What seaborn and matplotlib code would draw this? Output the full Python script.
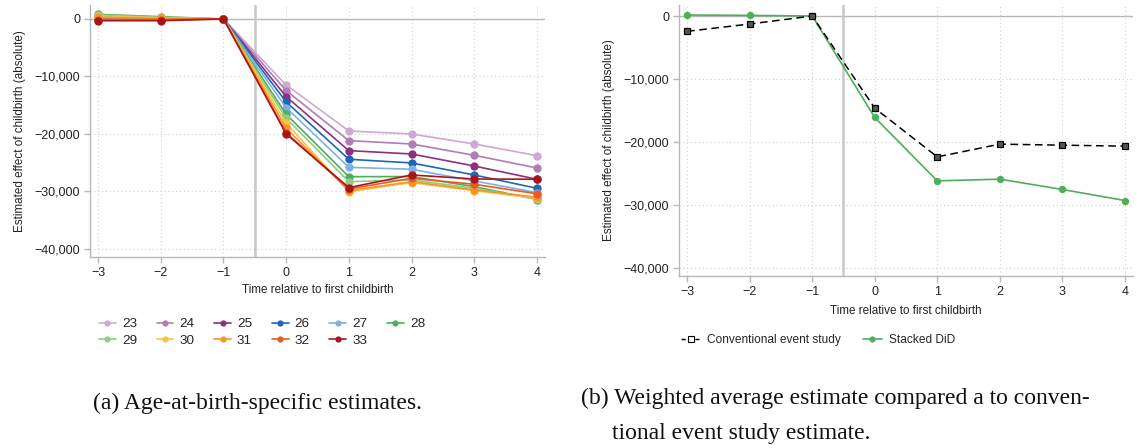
import numpy as np
import pandas as pd
import matplotlib
matplotlib.use("Agg")
import matplotlib.pyplot as plt
import seaborn as sns
from matplotlib.ticker import FuncFormatter
from matplotlib.lines import Line2D

# ---------------- data ----------------
periods = [-3, -2, -1, 0, 1, 2, 3, 4]
ages = [23, 24, 25, 26, 27, 28, 29, 30, 31, 32, 33]
est_23 = [300, 200, 0, -11480, -19480, -20000, -21740, -23770]
est_24 = [200, 100, 0, -12470, -21160, -21740, -23710, -25910]
est_25 = [100, 0, 0, -13510, -22900, -23480, -25570, -27880]
est_26 = [0, -100, 0, -14430, -24400, -25040, -27130, -29450]
est_27 = [200, 100, 0, -15420, -25800, -26140, -28170, -30200]
est_28 = [800, 400, 0, -16580, -27420, -27420, -29160, -31400]
est_29 = [700, 300, 0, -17270, -28290, -28000, -29450, -31300]
est_30 = [500, 200, 0, -18140, -30030, -28460, -29850, -31200]
est_31 = [300, 100, 0, -19010, -29860, -28290, -29740, -31000]
est_32 = [-100, -100, 0, -19770, -29570, -27710, -28750, -30400]
est_33 = [-300, -300, 0, -20000, -29330, -27130, -27830, -27880]
age_colors = ["#cfa9d4", "#b27db2", "#8e2f80", "#1f67b3", "#7fb1e3", "#4fae5b",
              "#8dcd84", "#fcc43e", "#f6952d", "#ea5b22", "#a8161b"]

conventional = [-2430, -1270, 0, -14630, -22370, -20350, -20510, -20670]
stacked_did = [160, 100, 0, -16110, -26180, -25910, -27550, -29300]
series_names = ["Conventional event study", "Stacked DiD"]

ylabel = "Estimated effect of childbirth (absolute)"
xlabel = "Time relative to first childbirth"
cap_a = "(a) Age-at-birth-specific estimates."
cap_b1 = "(b) Weighted average estimate compared a to conven-"
cap_b2 = "tional event study estimate."

# ---------------- style ----------------
sns.set_theme(style="white")
plt.rcParams["font.family"] = ["Liberation Sans", "DejaVu Sans"]
GRID = "#d0d0d0"
AX = "#b8b8b8"

W, H = 1137, 448
fig = plt.figure(figsize=(W / 100, H / 100), dpi=100)

def fx(px):
    return px / W

def fy(py):
    return 1 - py / H

ax1 = fig.add_axes([fx(90), fy(257), fx(545 - 90), (257 - 5) / H])
ax2 = fig.add_axes([fx(679), fy(276), fx(1133 - 679), (276 - 5) / H])

fmt = FuncFormatter(lambda v, p: ("\u2212" if v < 0 else "") + f"{abs(int(round(v))):,}")

def style_axes(ax, ylim):
    ax.set_xlim(-3.13, 4.13)
    ax.set_ylim(*ylim)
    ax.set_xticks(periods)
    ax.set_xticklabels([("\u2212" if p < 0 else "") + str(abs(p)) for p in periods])
    ax.set_yticks([0, -10000, -20000, -30000, -40000])
    ax.yaxis.set_major_formatter(fmt)
    for s in ["top", "right"]:
        ax.spines[s].set_visible(False)
    for s in ["left", "bottom"]:
        ax.spines[s].set_color(AX)
        ax.spines[s].set_linewidth(1.0)
    ax.tick_params(axis="both", which="major", length=4, width=1.0, color=AX,
                   labelsize=9, labelcolor="#222222", pad=3, left=True, bottom=True)
    ax.grid(True, which="major", linestyle=(0, (1, 2.5)), color=GRID, linewidth=0.8)
    ax.axhline(0, color=AX, linewidth=1.0, zorder=1)
    ax.axvline(-0.5, color="#c8c8c8", linewidth=1.8, zorder=1)
    ax.set_ylabel(ylabel, fontsize=8.4, color="#222222")
    ax.set_xlabel(xlabel, fontsize=8.4, color="#222222")

# ---------------- left panel ----------------
rows = []
for a, vals in zip(ages, [est_23, est_24, est_25, est_26, est_27, est_28,
                          est_29, est_30, est_31, est_32, est_33]):
    for p, v in zip(periods, vals):
        rows.append({"period": p, "est": v, "age": str(a)})
df_a = pd.DataFrame(rows)

sns.lineplot(data=df_a, x="period", y="est", hue="age",
             palette=age_colors, marker="o", markersize=6, markeredgewidth=0,
             linewidth=1.2, ax=ax1, legend=False, zorder=3)
style_axes(ax1, (-41400, 2430))
ax1.yaxis.labelpad = 6
ax1.xaxis.labelpad = 4

handles_a = [Line2D([0], [0], color=c, marker="o", markersize=4.5, markeredgewidth=0,
                    linewidth=1.2) for c in age_colors]
labels_a = [str(a) for a in ages]
# row-major order for a 6-column, 2-row legend
order = [0, 6, 1, 7, 2, 8, 3, 9, 4, 10, 5]
fig.legend([handles_a[i] for i in order], [labels_a[i] for i in order],
           ncol=6, loc="upper left",
           bbox_to_anchor=(fx(99), fy(318)), frameon=False, fontsize=9.7,
           handlelength=1.25, handletextpad=0.45, columnspacing=1.45,
           labelspacing=0.32, borderpad=0, borderaxespad=0)

# ---------------- right panel ----------------
df_b = pd.DataFrame({
    "period": periods * 2,
    "est": conventional + stacked_did,
    "series": [series_names[0]] * len(periods) + [series_names[1]] * len(periods),
})
sns.lineplot(data=df_b[df_b.series == series_names[0]], x="period", y="est",
             color="black", linestyle=(0, (5, 3)), linewidth=1.1, marker="s",
             markersize=4.3, markerfacecolor="#555555", markeredgecolor="black",
             markeredgewidth=0.9, ax=ax2, legend=False, zorder=4)
sns.lineplot(data=df_b[df_b.series == series_names[1]], x="period", y="est",
             color="#4fae5b", linewidth=1.2, marker="o", markersize=5.3,
             markeredgewidth=0, ax=ax2, legend=False, zorder=3)
style_axes(ax2, (-41290, 1750))
ax2.yaxis.labelpad = 6
ax2.xaxis.labelpad = 5

handles_b = [
    Line2D([0], [0], color="black", linestyle=(0, (3, 2)), linewidth=1.0, marker="s",
           markersize=4, markerfacecolor="white", markeredgecolor="black",
           markeredgewidth=0.8),
    Line2D([0], [0], color="#4fae5b", linewidth=1.2, marker="o", markersize=4.5,
           markeredgewidth=0),
]
fig.legend(handles_b, series_names, ncol=2, loc="upper left",
           bbox_to_anchor=(fx(681), fy(334)), frameon=False, fontsize=8.6,
           handlelength=1.6, handletextpad=0.6, columnspacing=1.8,
           borderpad=0, borderaxespad=0)

# ---------------- captions ----------------
serif = ["Liberation Serif", "DejaVu Serif"]
fig.text(fx(257), fy(403), cap_a, ha="center", va="center", fontsize=17,
         family=serif, color="#111111")
fig.text(fx(581), fy(398), cap_b1, ha="left", va="center", fontsize=17,
         family=serif, color="#111111")
fig.text(fx(612), fy(433), cap_b2, ha="left", va="center", fontsize=17,
         family=serif, color="#111111")

fig.savefig("out.png", dpi=100)
